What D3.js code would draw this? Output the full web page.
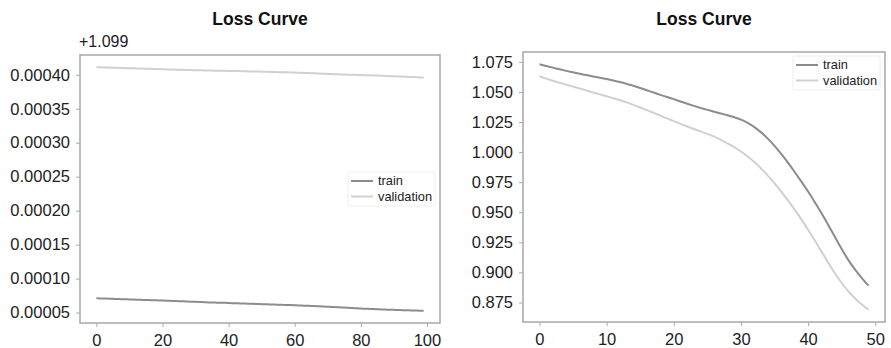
<!DOCTYPE html>
<html>
<head>
<meta charset="utf-8">
<script src="https://cdn.jsdelivr.net/npm/d3@7"></script>
<style>
  html, body { margin: 0; padding: 0; background: #fff; }
  svg { display: block; font-family: "Liberation Sans", Arial, sans-serif; }
</style>
</head>
<body>
<svg id="chart" width="891" height="348"></svg>
<script>
// left panel: loss offsets from 1.099, in units of 1e-5, epochs 0..99
const leftTrain = [
  7.10,7.08,7.06,7.05,7.03,7.01,6.99,6.98,6.96,6.94,
  6.93,6.91,6.89,6.87,6.86,6.84,6.83,6.81,6.80,6.78,
  6.77,6.75,6.73,6.71,6.69,6.67,6.65,6.63,6.61,6.59,
  6.57,6.55,6.53,6.51,6.49,6.47,6.46,6.44,6.43,6.42,
  6.40,6.38,6.37,6.35,6.33,6.32,6.30,6.28,6.27,6.25,
  6.23,6.22,6.20,6.18,6.17,6.15,6.13,6.12,6.10,6.09,
  6.07,6.05,6.03,6.01,5.99,5.97,5.95,5.92,5.90,5.88,
  5.85,5.83,5.80,5.78,5.75,5.73,5.70,5.67,5.64,5.61,
  5.58,5.56,5.54,5.52,5.50,5.48,5.46,5.44,5.42,5.40,
  5.39,5.37,5.36,5.34,5.33,5.31,5.30,5.28,5.27,5.25
];
const leftValidation = [
  41.12,41.10,41.09,41.07,41.06,41.04,41.03,41.01,41.00,40.98,
  40.97,40.95,40.94,40.92,40.91,40.89,40.88,40.86,40.85,40.83,
  40.82,40.80,40.79,40.77,40.76,40.74,40.73,40.71,40.70,40.68,
  40.67,40.66,40.65,40.64,40.63,40.62,40.61,40.60,40.59,40.58,
  40.57,40.56,40.55,40.54,40.53,40.52,40.50,40.49,40.48,40.47,
  40.46,40.44,40.43,40.42,40.41,40.39,40.38,40.37,40.36,40.34,
  40.33,40.31,40.29,40.27,40.25,40.23,40.21,40.19,40.17,40.15,
  40.13,40.11,40.09,40.07,40.05,40.04,40.02,40.01,39.99,39.98,
  39.97,39.95,39.94,39.92,39.90,39.88,39.86,39.84,39.82,39.80,
  39.78,39.76,39.74,39.72,39.70,39.68,39.66,39.63,39.60,39.57
];
const leftXTicks = [0, 20, 40, 60, 80, 100];
const leftYTicks = [5, 10, 15, 20, 25, 30, 35, 40];
const leftYLabels = ["0.00005","0.00010","0.00015","0.00020","0.00025","0.00030","0.00035","0.00040"];
const leftOffset = "+1.099";

// right panel: epochs 0..49
const rightTrain = [
  1.073,1.0716,1.0702,1.0688,1.0675,1.0663,1.0651,1.064,1.0629,1.0618,
  1.0607,1.0595,1.0582,1.0567,1.0551,1.0533,1.0514,1.0495,1.0476,1.0458,
  1.044,1.0421,1.0402,1.0384,1.0367,1.0351,1.0336,1.0321,1.0306,1.029,
  1.027,1.0243,1.0208,1.0164,1.0112,1.0052,0.9985,0.9912,0.9835,0.9755,
  0.9672,0.9584,0.9492,0.9395,0.9295,0.9195,0.9102,0.9023,0.8953,0.889
];
const rightValidation = [
  1.063,1.0611,1.0593,1.0576,1.056,1.0544,1.0528,1.0512,1.0496,1.048,
  1.0464,1.0448,1.0431,1.0413,1.0393,1.0371,1.0349,1.0326,1.0303,1.028,
  1.0257,1.0235,1.0213,1.0192,1.0172,1.0151,1.0128,1.0102,1.0073,1.0041,
  1.0005,0.9964,0.9917,0.9864,0.9805,0.9741,0.9672,0.9599,0.9522,0.9441,
  0.9355,0.9265,0.9173,0.9081,0.8993,0.8912,0.8842,0.8783,0.8733,0.869
];
const rightXTicks = [0, 10, 20, 30, 40, 50];
const rightYTicks = [0.875, 0.900, 0.925, 0.950, 0.975, 1.000, 1.025, 1.050, 1.075];

const seriesNames = ["train", "validation"];
const seriesColors = ["#8c8c8c", "#d0d0d0"];

const svg = d3.select("#chart");

function padded(ext, frac) {
  const span = ext[1] - ext[0];
  return [ext[0] - span * frac, ext[1] + span * frac];
}

function drawPanel(cfg) {
  const { box, series, xTicks, yTicks, yFormat, legendMode } = cfg;
  const g = svg.append("g");
  const n = series[0].length;

  const x = d3.scaleLinear()
    .domain(padded([0, n - 1], 0.05))
    .range([box.left, box.right]);
  const y = d3.scaleLinear()
    .domain(padded(d3.extent(series.flat()), 0.05))
    .range([box.bottom, box.top]);

  // axes
  const xAxis = g.append("g")
    .attr("transform", `translate(0,${box.bottom})`)
    .call(d3.axisBottom(x).tickValues(xTicks).tickSize(4).tickPadding(6).tickSizeOuter(0));
  const yAxis = g.append("g")
    .attr("transform", `translate(${box.left},0)`)
    .call(d3.axisLeft(y).tickValues(yTicks).tickSize(4).tickPadding(6).tickSizeOuter(0).tickFormat(yFormat));

  [xAxis, yAxis].forEach(a => {
    a.select(".domain").remove();
    a.selectAll("line").attr("stroke", "#aaa").attr("stroke-width", 1);
    a.selectAll("text").attr("fill", "#222").style("font-size", "16.5px");
  });
  xAxis.selectAll("text").attr("dy", "0.78em");

  // spines
  g.append("rect")
    .attr("x", box.left).attr("y", box.top)
    .attr("width", box.right - box.left).attr("height", box.bottom - box.top)
    .attr("fill", "none").attr("stroke", "#a8a8a8").attr("stroke-width", 1.5);

  const line = d3.line()
    .x((d, i) => x(i))
    .y(d => y(d))
    .curve(d3.curveMonotoneX);

  g.selectAll(".series")
    .data(series)
    .enter().append("path")
    .attr("class", "series")
    .attr("d", line)
    .attr("fill", "none")
    .attr("stroke", (d, i) => seriesColors[i])
    .attr("stroke-width", 2);

  // title
  g.append("text")
    .attr("x", (box.left + box.right) / 2)
    .attr("y", 25)
    .attr("text-anchor", "middle")
    .attr("fill", "#111")
    .style("font-size", "17.5px")
    .style("font-weight", "bold")
    .text("Loss Curve");

  if (cfg.offsetText) {
    g.append("text")
      .attr("x", box.left - 1)
      .attr("y", 47)
      .attr("fill", "#222")
      .style("font-size", "16px")
      .text(cfg.offsetText);
  }

  // legend
  const lw = 87, lh = 34;
  const lx = box.right - 5 - lw;
  const ly = legendMode === "center right"
    ? (box.top + box.bottom) / 2 - lh / 2
    : box.top + 4;
  const leg = g.append("g").attr("transform", `translate(${lx},${ly})`);
  leg.append("rect")
    .attr("width", lw).attr("height", lh).attr("rx", 2)
    .attr("fill", "#fff").attr("stroke", "#eee").attr("stroke-width", 1);
  seriesNames.forEach((name, i) => {
    const cy = 9 + i * 15.5;
    leg.append("line")
      .attr("x1", 3).attr("x2", 25).attr("y1", cy).attr("y2", cy)
      .attr("stroke", seriesColors[i]).attr("stroke-width", 2);
    leg.append("text")
      .attr("x", 30).attr("y", cy)
      .attr("dy", "0.35em")
      .attr("fill", "#222")
      .style("font-size", "12.8px")
      .text(name);
  });
}

drawPanel({
  box: { left: 80, right: 440, top: 55, bottom: 323 },
  series: [leftTrain, leftValidation],
  xTicks: leftXTicks,
  yTicks: leftYTicks,
  yFormat: d => leftYLabels[leftYTicks.indexOf(d)],
  offsetText: leftOffset,
  legendMode: "center right"
});

drawPanel({
  box: { left: 523, right: 885, top: 52, bottom: 322 },
  series: [rightTrain, rightValidation],
  xTicks: rightXTicks,
  yTicks: rightYTicks,
  yFormat: d3.format(".3f"),
  legendMode: "upper right"
});
</script>
</body>
</html>
